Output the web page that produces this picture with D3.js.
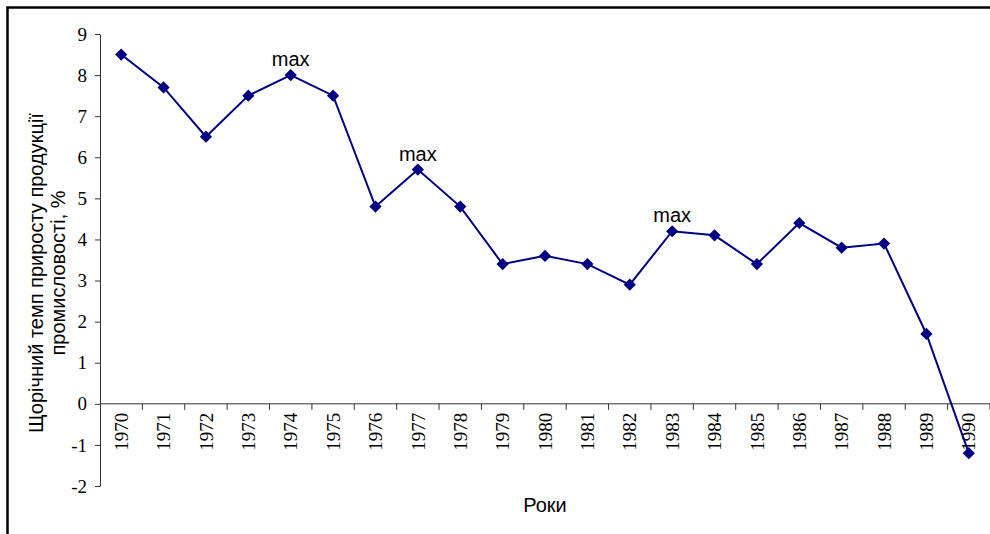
<html>
  <head>
    <meta charset="utf-8" />
    <script src="https://cdn.jsdelivr.net/npm/d3@7/dist/d3.min.js"></script>
    <style>
      * {
        margin: 0;
        padding: 0;
      }
      body {
        background-color: white;
        overflow: hidden;
      }
    </style>
  </head>
  <body>
    <div id="container"></div>
    <script>
      const years = [
        1970, 1971, 1972, 1973, 1974, 1975, 1976, 1977, 1978, 1979, 1980,
        1981, 1982, 1983, 1984, 1985, 1986, 1987, 1988, 1989, 1990,
      ];
      const growth = [
        8.5, 7.7, 6.5, 7.5, 8.0, 7.5, 4.8, 5.7, 4.8, 3.4, 3.6, 3.4, 2.9, 4.2,
        4.1, 3.4, 4.4, 3.8, 3.9, 1.7, -1.2,
      ];
      const yTicks = [-2, -1, 0, 1, 2, 3, 4, 5, 6, 7, 8, 9];
      const maxYears = [1974, 1977, 1983];

      const w = 990;
      const h = 534;
      const plotLeft = 100;
      const plotRight = 990;
      const plotTop = 34;
      const plotBottom = 486;
      const navy = "#000080";

      const dataset = years.map((y, i) => ({ year: y, value: growth[i] }));

      const svg = d3
        .select("#container")
        .append("svg")
        .attr("width", w)
        .attr("height", h);

      // frame (left + top edges only visible)
      svg
        .append("path")
        .attr("d", "M7.5," + h + "V7.5H" + w)
        .attr("fill", "none")
        .attr("stroke", "black")
        .attr("stroke-width", 2.5);

      const xScale = d3
        .scaleBand()
        .domain(years)
        .range([plotLeft, plotRight])
        .padding(0);

      const yScale = d3
        .scaleLinear()
        .domain([-2, 9])
        .range([plotBottom, plotTop]);

      // y axis
      const yAxis = d3
        .axisLeft(yScale)
        .tickValues(yTicks)
        .tickFormat((d) => String(d))
        .tickSize(5)
        .tickSizeOuter(0)
        .tickPadding(8);

      const gy = svg
        .append("g")
        .attr("transform", "translate(" + plotLeft + ",0)")
        .call(yAxis);
      gy.select(".domain").attr("stroke", "#333");
      gy.selectAll(".tick line").attr("stroke", "#333");
      gy.selectAll("text")
        .attr("font-family", "'Liberation Serif', 'Times New Roman', serif")
        .attr("font-size", 19)
        .attr("fill", "black");

      // x axis along zero line
      const y0 = yScale(0);
      const gx = svg.append("g");
      gx.append("line")
        .attr("x1", plotLeft)
        .attr("x2", plotRight)
        .attr("y1", y0)
        .attr("y2", y0)
        .attr("stroke", "#333");
      gx.selectAll(".xtick")
        .data(years)
        .enter()
        .append("line")
        .attr("x1", (d) => xScale(d) + xScale.bandwidth())
        .attr("x2", (d) => xScale(d) + xScale.bandwidth())
        .attr("y1", y0)
        .attr("y2", y0 + 6)
        .attr("stroke", "#333");
      gx.selectAll(".xlabel")
        .data(years)
        .enter()
        .append("text")
        .attr(
          "transform",
          (d) =>
            "translate(" +
            (xScale(d) + xScale.bandwidth() / 2) +
            "," +
            (y0 + 9) +
            ") rotate(-90)"
        )
        .attr("text-anchor", "end")
        .attr("dy", "0.35em")
        .attr("font-family", "'Liberation Serif', 'Times New Roman', serif")
        .attr("font-size", 19)
        .text((d) => d);

      // line
      const line = d3
        .line()
        .x((d) => xScale(d.year) + xScale.bandwidth() / 2)
        .y((d) => yScale(d.value));

      svg
        .append("path")
        .datum(dataset)
        .attr("d", line)
        .attr("fill", "none")
        .attr("stroke", navy)
        .attr("stroke-width", 2);

      svg
        .selectAll(".marker")
        .data(dataset)
        .enter()
        .append("path")
        .attr("class", "marker")
        .attr("d", d3.symbol(d3.symbolDiamond2, 95)())
        .attr(
          "transform",
          (d) =>
            "translate(" +
            (xScale(d.year) + xScale.bandwidth() / 2) +
            "," +
            yScale(d.value) +
            ")"
        )
        .attr("fill", navy);

      // max annotations
      svg
        .selectAll(".maxlabel")
        .data(dataset.filter((d) => maxYears.includes(d.year)))
        .enter()
        .append("text")
        .attr("x", (d) => xScale(d.year) + xScale.bandwidth() / 2)
        .attr("y", (d) => yScale(d.value) - 9)
        .attr("text-anchor", "middle")
        .attr("font-family", "'Liberation Sans', Arial, sans-serif")
        .attr("font-size", 20)
        .text("max");

      // axis titles
      svg
        .append("text")
        .attr("x", (plotLeft + plotRight) / 2)
        .attr("y", 512)
        .attr("text-anchor", "middle")
        .attr("font-family", "'Liberation Sans', Arial, sans-serif")
        .attr("font-size", 20)
        .text("Роки");

      const yTitle = svg
        .append("text")
        .attr("transform", "translate(43,273) rotate(-90)")
        .attr("text-anchor", "middle")
        .attr("font-family", "'Liberation Sans', Arial, sans-serif")
        .attr("font-size", 20);
      yTitle.append("tspan").attr("x", 0).attr("y", 0).text("Щорічний темп приросту продукції");
      yTitle.append("tspan").attr("x", 0).attr("y", 22).text("промисловості, %");
    </script>
  </body>
</html>
